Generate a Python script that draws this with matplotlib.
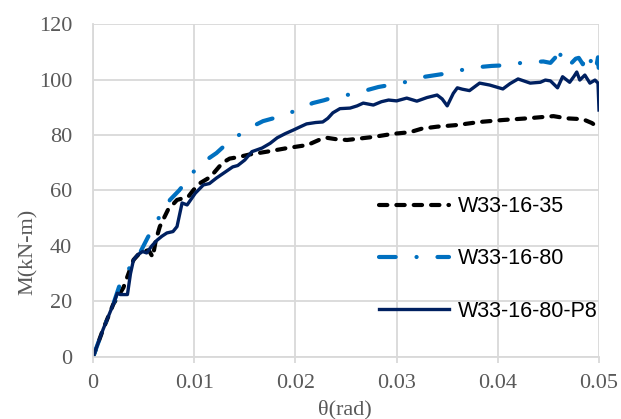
"""
Moment-rotation curves for the three W33 specimens.
"""

import matplotlib
matplotlib.use("Agg")
import matplotlib.pyplot as plt

# W33-16-35 (black dashed)
theta_35 = [0, 0.0010, 0.0020, 0.0030, 0.0035, 0.0040, 0.0045, 0.0050, 0.0055,
            0.0059, 0.0062, 0.0066, 0.0074, 0.0083, 0.0094, 0.0100, 0.0106,
            0.0116, 0.0128, 0.0135, 0.0143, 0.0155, 0.0172, 0.0192, 0.0212,
            0.0225, 0.0231, 0.0240, 0.0251, 0.0277, 0.0296, 0.0313, 0.0325,
            0.0340, 0.0360, 0.0382, 0.0405, 0.0429, 0.0445, 0.0455, 0.0468,
            0.0484, 0.0493, 0.0500]
m_35 = [0, 10, 19, 25, 30, 35, 37, 38, 38.5,
        36, 42, 47, 53, 56.6, 57.7, 60.5, 62.7,
        64.9, 70, 71.5, 72, 73, 74, 75.3, 76.4,
        78.5, 79, 78.5, 78.2, 79.3, 80.4, 81, 82.3,
        83, 83.6, 84.7, 85.4, 86, 86.5, 86.8, 86,
        85.7, 84.3, 82.5]

# W33-16-80 (blue dash-dot)
theta_80 = [0, 0.0010, 0.0020, 0.0027, 0.0033, 0.0040, 0.0047, 0.0054, 0.0063,
            0.0070, 0.0076, 0.0085, 0.0091, 0.0103, 0.0112, 0.0122, 0.0131,
            0.0140, 0.0157, 0.0168, 0.0178, 0.0190, 0.0200, 0.0217, 0.0228,
            0.0239, 0.0252, 0.0264, 0.0282, 0.0293, 0.0305, 0.0317, 0.0328,
            0.0346, 0.0358, 0.0370, 0.0382, 0.0394, 0.0412, 0.0423, 0.0435,
            0.0445, 0.0452, 0.0457, 0.0460, 0.0463, 0.0468, 0.0473, 0.0477,
            0.0480, 0.0484, 0.0487, 0.0490, 0.0493, 0.0495, 0.0497, 0.0499,
            0.0500]
m_80 = [0, 10, 19, 26.7, 30, 35, 38, 43, 49,
        53, 56.6, 60, 62.7, 68.5, 71, 73.5, 76.5,
        79, 83, 85, 86, 87.5, 88.7, 91.5, 92.5,
        93.7, 94.5, 95.5, 97.3, 98, 98.7, 100, 101,
        102, 103, 103.8, 104.5, 104.9, 105.2, 106, 106.3,
        106.5, 106, 108, 112, 107, 104.5, 106, 107.5,
        107.8, 105.5, 107.5, 104.5, 108, 106, 104, 108,
        102]

# W33-16-80-P8 (navy solid)
theta_p8 = [0, 0.0005, 0.0010, 0.0015, 0.0020, 0.0024, 0.0027, 0.0034, 0.0037,
            0.0040, 0.0044, 0.0049, 0.0053, 0.0058, 0.0063, 0.0068, 0.0073,
            0.0079, 0.0083, 0.0088, 0.0093, 0.0101, 0.0109, 0.0115, 0.0122,
            0.0130, 0.0138, 0.0143, 0.0150, 0.0157, 0.0167, 0.0175, 0.0182,
            0.0190, 0.0198, 0.0205, 0.0211, 0.0220, 0.0227, 0.0232, 0.0237,
            0.0244, 0.0254, 0.0261, 0.0267, 0.0277, 0.0285, 0.0292, 0.0300,
            0.0310, 0.0320, 0.0330, 0.0340, 0.0345, 0.0350, 0.0356, 0.0360,
            0.0365, 0.0372, 0.0382, 0.0392, 0.0405, 0.0412, 0.0420, 0.0432,
            0.0442, 0.0447, 0.0452, 0.0459, 0.0464, 0.0471, 0.0475, 0.0478,
            0.0481, 0.0486, 0.0491, 0.0496, 0.0499, 0.0500]
m_p8 = [0, 5, 10, 14.5, 19, 23, 22.5, 22.5, 30,
        35, 36.8, 38, 37.5, 40, 42, 43.5, 44.7,
        45.2, 47, 55.5, 54.8, 59, 62, 62.5, 64.5,
        66.5, 68.5, 69, 71, 74, 75.3, 77, 79,
        80.5, 81.8, 83, 84, 84.5, 84.7, 86, 88,
        89.5, 89.7, 90.5, 91.5, 90.8, 92, 92.6, 92.3,
        93.3, 92.2, 93.5, 94.4, 93, 90.5, 95, 97,
        96.5, 96, 98.7, 98, 96.6, 98.5, 100.2, 98.7,
        99, 99.8, 99.5, 97, 101, 99, 101, 102.7,
        99.8, 101.6, 98.7, 99.8, 98.7, 89]

labels = ["W33-16-35", "W33-16-80", "W33-16-80-P8"]
x_ticks = [0, 0.01, 0.02, 0.03, 0.04, 0.05]
x_tick_labels = ["0", "0.01", "0.02", "0.03", "0.04", "0.05"]
y_ticks = [0, 20, 40, 60, 80, 100, 120]

GRID = "#d9d9d9"
TEXT = "#595959"
SERIF = "Liberation Serif"

plt.rcParams["lines.scale_dashes"] = False

fig = plt.figure(figsize=(6.21, 4.19), dpi=100)
ax = fig.add_axes([0.1498, 0.148, 0.8148, 0.7947])

ax.plot(theta_35, m_35, color="black", lw=3.0, dash_capstyle="round",
        dashes=(6, 6.5), label=labels[0])
ax.plot(theta_80, m_80, color="#0070C0", lw=3.0, dash_capstyle="round",
        dashes=(12, 15, 0.1, 15), label=labels[1])
ax.plot(theta_p8, m_p8, color="#002060", lw=2.4, label=labels[2])

ax.set_xlim(0, 0.05)
ax.set_ylim(0, 120)
ax.set_xticks(x_ticks)
ax.set_xticklabels(x_tick_labels)
ax.set_yticks(y_ticks)

ax.grid(True, color=GRID, lw=1.3)
ax.set_axisbelow(True)
for side in ["top", "right"]:
  ax.spines[side].set_visible(False)
for side in ["left", "bottom"]:
  ax.spines[side].set_color(GRID)
  ax.spines[side].set_linewidth(1.3)

ax.tick_params(axis="y", length=0, pad=15, labelsize=16, labelcolor=TEXT)
ax.tick_params(axis="x", length=4, width=1.3, color=GRID, pad=8,
               labelsize=16, labelcolor=TEXT)
for lbl in ax.get_xticklabels() + ax.get_yticklabels():
  lbl.set_family(SERIF)

ax.set_ylabel("M(kN-m)", family=SERIF, fontsize=16, color=TEXT)
ax.yaxis.set_label_coords(-0.109, 0.315)
ax.set_xlabel("θ(rad)", family=SERIF, fontsize=16, color=TEXT)
ax.xaxis.set_label_coords(0.498, -0.13)

leg = ax.legend(loc="upper left", bbox_to_anchor=(0.565, 0.483), frameon=False,
                prop={"family": "Liberation Sans", "size": 15.5},
                handlelength=3.25, handletextpad=0.42, labelspacing=1.45,
                borderaxespad=0, borderpad=0)

fig.savefig("out.png", dpi=100)
